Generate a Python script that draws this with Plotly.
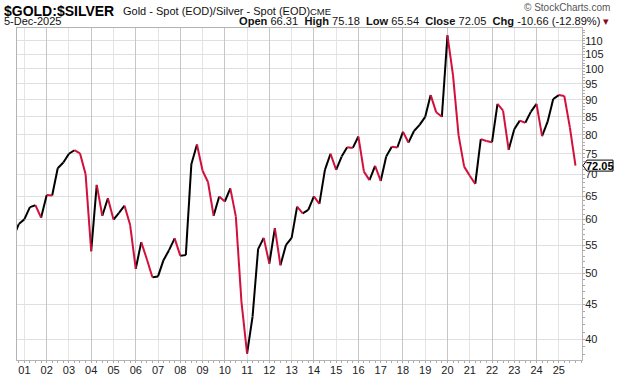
import math
import pandas as pd
import plotly.graph_objects as go

# ---------------- data ----------------
# quarterly closes of the Gold/Silver ratio, 2000-Q3 .. 2025-Q4
quarters = pd.date_range("2000-07-01", periods=102, freq="QS")
ratio = [
    56.5,                                   # 2000 Q3 (clipped at left edge)
    59.1,                                   # 2000 Q4
    60.1, 62.6, 63.0, 60.4,                 # 2001
    65.2, 65.1, 71.4, 72.8,                 # 2002
    75.0, 75.9, 75.1, 70.0,                 # 2003
    53.9, 67.5, 60.8, 64.5,                 # 2004
    60.0, 61.4, 62.9, 58.9,                 # 2005
    50.8, 55.6, 52.5, 49.35,                # 2006
    49.5, 52.3, 54.1, 56.3,                 # 2007
    53.1, 53.2, 72.4, 77.4,                 # 2008
    70.8, 68.1, 60.8, 64.9,                 # 2009
    63.8, 66.7, 60.6, 45.4,                 # 2010
    38.1, 43.2, 54.3, 56.4,                 # 2011
    51.7, 58.3, 51.4, 55.1,                 # 2012
    56.4, 62.7, 61.3, 62.0,                 # 2013
    64.9, 63.3, 71.0, 75.0,                 # 2014
    71.0, 74.3, 76.7, 76.5,                 # 2015
    79.5, 70.6, 68.6, 72.0,                 # 2016
    68.4, 74.3, 76.8, 76.6,                 # 2017
    80.8, 77.9, 81.0, 82.7,                 # 2018
    85.0, 91.5, 86.3, 85.0,                 # 2019
    112.0, 97.9, 79.9, 71.8,                # 2020
    69.6, 67.7, 78.8, 78.3,                 # 2021
    78.0, 88.8, 86.8, 76.0,                 # 2022
    81.5, 83.9, 83.3, 86.5,                 # 2023
    88.8, 79.6, 83.6, 90.3,                 # 2024
    91.5, 91.2, 82.0, 72.05,                # 2025
]

year_ticks = pd.date_range("2001-01-01", "2025-01-01", freq="YS")
year_labels = [d.strftime("%y") for d in year_ticks]
price_ticks = list(range(40, 115, 5))

title_symbol = "$GOLD:$SILVER"
title_desc = "Gold - Spot (EOD)/Silver - Spot (EOD)"
exchange = "CME"
date_label = "5-Dec-2025"
ohlc_labels = ["Open", "High", "Low", "Close", "Chg"]
ohlc_values = ["66.31", "75.18", "65.54", "72.05", "-10.66 (-12.89%)"]
close_value = ratio[-1]

UP = "#000000"
DOWN = "#d2103c"

# ---------------- figure ----------------
W, H = 620, 376
ML, MR, MT, MB = 17, 38, 28, 16
PW, PH = W - ML - MR, H - MT - MB


def px(x):
    return (x - ML) / PW


def py(y):
    return (H - MB - y) / PH


up_x, up_y, dn_x, dn_y = [], [], [], []
for a, b, va, vb in zip(quarters[:-1], quarters[1:], ratio[:-1], ratio[1:]):
    if vb >= va:
        up_x += [a, b, None]
        up_y += [va, vb, None]
    else:
        dn_x += [a, b, None]
        dn_y += [va, vb, None]

fig = go.Figure()
fig.add_trace(go.Scatter(x=quarters[:1], y=ratio[:1], xaxis="x2", mode="markers",
                         marker=dict(opacity=0), hoverinfo="skip"))
fig.add_trace(go.Scatter(x=up_x, y=up_y, mode="lines",
                         line=dict(color=UP, width=2), hoverinfo="skip"))
fig.add_trace(go.Scatter(x=dn_x, y=dn_y, mode="lines",
                         line=dict(color=DOWN, width=2), hoverinfo="skip"))

xrange = ["2000-09-01", "2026-01-16"]
ylo, yhi = 1.5716, 2.0601

fig.update_layout(
    width=W, height=H,
    margin=dict(l=ML, r=MR, t=MT, b=MB, autoexpand=False),
    paper_bgcolor="white", plot_bgcolor="white",
    showlegend=False,
    font=dict(family="Liberation Sans, Arial, sans-serif", size=11, color="#222"),
    xaxis=dict(
        type="date", range=xrange, tickmode="array", tickvals=year_ticks, ticktext=year_labels,
        showgrid=True, gridcolor="#e4e4e4", gridwidth=1,
        showline=True, linecolor="#b4b4b4", linewidth=1, mirror=True,
        ticks="", ticklen=0, tickfont=dict(size=11, color="#222"),
        minor=dict(dtick="M3", tick0="2000-01-01", ticks="outside", ticklen=2,
                   tickcolor="#aaaaaa", showgrid=False),
        zeroline=False, automargin=False,
    ),
    xaxis2=dict(
        type="date", range=xrange, overlaying="x", dtick="M24", tick0="2000-01-01",
        showgrid=True, gridcolor="#c6c6c6", gridwidth=1, showticklabels=False,
        ticks="", showline=False, zeroline=False, automargin=False,
    ),
    yaxis=dict(
        type="log", side="right", range=[ylo, yhi], tickmode="array",
        tickvals=price_ticks, ticktext=[str(v) for v in price_ticks],
        showgrid=True, gridcolor="#e0e0e0", gridwidth=1,
        showline=True, linecolor="#b4b4b4", linewidth=1, mirror=True,
        ticks="", tickfont=dict(size=11, color="#222"),
        minor=dict(tickmode="array", tickvals=list(range(38, 115)), ticks="outside",
                   ticklen=2, tickcolor="#aaaaaa", showgrid=False),
        zeroline=False, automargin=False,
    ),
)

ann = []
ann.append(dict(text="<b>" + title_symbol + "</b>", x=px(2), y=py(11), xanchor="left",
                yanchor="middle", font=dict(size=14, color="#000")))
ann.append(dict(text=title_desc, x=px(121), y=py(11), xanchor="left", yanchor="middle",
                font=dict(size=11, color="#111")))
ann.append(dict(text=exchange, x=px(308), y=py(11), xanchor="left", yanchor="middle",
                font=dict(size=9.5, color="#111")))
ann.append(dict(text=date_label, x=px(2), y=py(21), xanchor="left", yanchor="middle",
                font=dict(size=11, color="#111")))
parts = "\u00a0\u00a0".join("<b>%s</b> %s" % (l, v) for l, v in zip(ohlc_labels, ohlc_values))
parts += " <span style='color:#8b0a1a'>\u25be</span>"
ann.append(dict(text=parts, x=px(611), y=py(21), xanchor="right", yanchor="middle",
                font=dict(size=11.1, color="#111")))
ann.append(dict(text="\u00a9 StockCharts.com", x=px(612), y=py(7), xanchor="right",
                yanchor="middle", font=dict(size=10, color="#555")))
for a in ann:
    a.update(xref="paper", yref="paper", showarrow=False)

# price tag on the right axis (shape coordinates on a log axis are data values)
fac = 10 ** (5.5 / PH * (yhi - ylo))
x_tip, x_l, x_r = px(583), px(587), px(613)
y_top, y_bot = close_value * fac, close_value / fac
fig.add_shape(type="path", xref="paper", yref="y",
              path="M %f,%f L %f,%f L %f,%f L %f,%f L %f,%f Z" % (
                  x_tip, close_value, x_l, y_top, x_r, y_top, x_r, y_bot, x_l, y_bot),
              line=dict(color="#000", width=1), fillcolor="white", layer="above")
ann.append(dict(text="<b>%.2f</b>" % close_value, xref="paper", yref="y",
                x=(x_l + x_r) / 2, y=math.log10(close_value), xanchor="center",
                yanchor="middle", showarrow=False, font=dict(size=11, color="#000")))

fig.update_layout(annotations=ann)
fig.write_html("out.html", config={"displayModeBar": False},
               post_script="document.body.style.margin='0';document.body.style.overflow='hidden';")
